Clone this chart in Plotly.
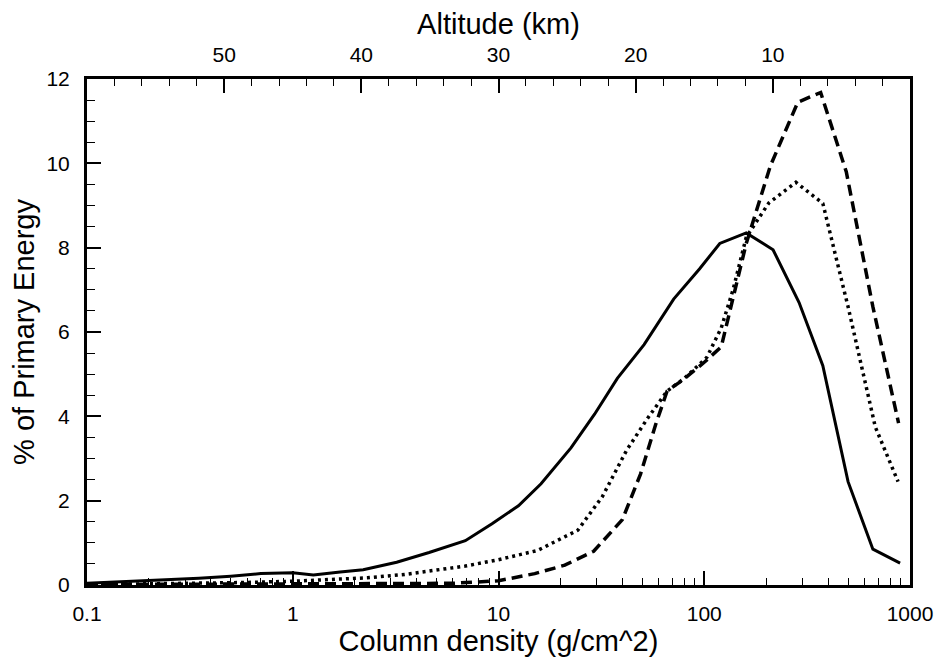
import plotly.graph_objects as go

# Column density (g/cm^2) and % of primary energy
solid_x = [0.1, 0.2, 0.35, 0.5, 0.7, 1.0, 1.26, 1.7, 2.2, 3.2, 4.6, 6.9, 9.3, 12.5, 16.1, 22.5, 29.3,
           37.8, 51, 71, 95, 119, 160, 216, 289, 377, 500, 660, 895]
solid_y = [0.04, 0.1, 0.16, 0.21, 0.27, 0.29, 0.24, 0.31, 0.36, 0.54, 0.77, 1.05, 1.45, 1.88, 2.4, 3.25, 4.05,
           4.9, 5.7, 6.78, 7.5, 8.1, 8.35, 7.95, 6.7, 5.2, 2.45, 0.85, 0.52]

dotted_x = [0.1, 0.3, 0.6, 1.0, 1.6, 2.3, 3.5, 5.0, 6.9, 10, 15.5, 24.3, 32, 42, 53, 66, 80, 103, 121,
            138, 160, 206, 279, 377, 500, 678, 875]
dotted_y = [0.01, 0.03, 0.06, 0.09, 0.13, 0.17, 0.25, 0.35, 0.45, 0.6, 0.82, 1.3, 2.1, 3.2, 3.95, 4.6, 4.9, 5.4, 6.1,
            7.0, 8.25, 9.06, 9.55, 9.05, 6.6, 3.75, 2.45]

dashed_x = [0.1, 0.5, 1.0, 3.0, 6.0, 10, 15, 21, 29, 40, 49, 58, 66, 79, 101, 121, 160, 210, 285, 368, 490,
            660, 880]
dashed_y = [0.01, 0.02, 0.03, 0.03, 0.04, 0.1, 0.27, 0.47, 0.8, 1.55, 2.63, 3.8, 4.6, 4.87, 5.3, 5.65, 8.1, 9.95,
            11.45, 11.68, 9.8, 6.6, 3.84]

x_ticks = [0.1, 1, 10, 100, 1000]
x_tick_labels = ["0.1", "1", "10", "100", "1000"]
alt_ticks = [50, 40, 30, 20, 10]
y_ticks = [0, 2, 4, 6, 8, 10, 12]

FONT = "Liberation Sans, Arial, Helvetica, sans-serif"
TICK_SIZE = 21
TITLE_SIZE = 29

fig = go.Figure()
fig.add_trace(go.Scatter(x=solid_x, y=solid_y, mode="lines",
                         line=dict(color="black", width=3), showlegend=False))
fig.add_trace(go.Scatter(x=dotted_x, y=dotted_y, mode="lines",
                         line=dict(color="black", width=3.5, dash="3px,4px"), showlegend=False))
fig.add_trace(go.Scatter(x=dashed_x, y=dashed_y, mode="lines",
                         line=dict(color="black", width=3.5, dash="11px,6px"), showlegend=False))
# invisible trace to activate the top altitude axis
fig.add_trace(go.Scatter(x=[60, 0], y=[None, None], xaxis="x2", mode="lines", showlegend=False,
                         hoverinfo="skip"))

# page body has an 8px default margin, so the figure is 8px smaller and margins are shifted
fig.update_layout(
    width=937, height=654,
    margin=dict(l=77, r=30, t=67, b=77),
    paper_bgcolor="white", plot_bgcolor="white",
    font=dict(family=FONT, color="black", size=TICK_SIZE),
    xaxis=dict(
        type="log", range=[-1, 3],
        tickvals=x_ticks, ticktext=x_tick_labels,
        ticks="inside", ticklen=14, tickwidth=2, tickcolor="black",
        ticklabelstandoff=8,
        showline=True, linecolor="black", linewidth=3, mirror=False,
        showgrid=False, zeroline=False,
        minor=dict(ticks="inside", ticklen=7, tickwidth=1.2, tickcolor="black", dtick="D1", showgrid=False),
        title=dict(text="Column density (g/cm^2)", font=dict(size=TITLE_SIZE), standoff=4),
        tickfont=dict(size=TICK_SIZE),
    ),
    xaxis2=dict(
        overlaying="x", side="top", range=[60, 0],
        tickvals=alt_ticks,
        ticks="inside", ticklen=14, tickwidth=2, tickcolor="black",
        ticklabelstandoff=6,
        showline=True, linecolor="black", linewidth=3,
        showgrid=False, zeroline=False,
        minor=dict(ticks="inside", ticklen=7, tickwidth=1.2, tickcolor="black", dtick=2, showgrid=False),
        title=dict(text="Altitude (km)", font=dict(size=TITLE_SIZE), standoff=2),
        tickfont=dict(size=TICK_SIZE),
    ),
    yaxis=dict(
        range=[0, 12], tickvals=y_ticks,
        ticks="inside", ticklen=14, tickwidth=2, tickcolor="black",
        ticklabelstandoff=10,
        showline=True, linecolor="black", linewidth=3, mirror=True,
        showgrid=False, zeroline=False,
        minor=dict(ticks="inside", ticklen=8, tickwidth=1.2, tickcolor="black", dtick=0.5, showgrid=False),
        title=dict(text="% of Primary Energy", font=dict(size=TITLE_SIZE), standoff=6),
        tickfont=dict(size=TICK_SIZE),
    ),
)

fig.write_html("out.html")
